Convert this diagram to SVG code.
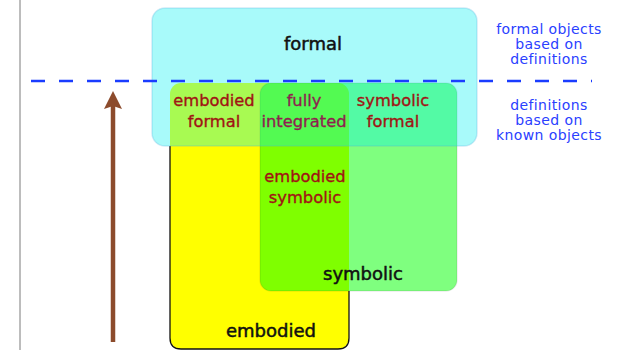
<svg xmlns="http://www.w3.org/2000/svg" width="622" height="350" viewBox="0 0 622 350">
  <style>
    .lbl { font-family: "DejaVu Sans", Verdana, sans-serif; font-size: 18px; fill: #111; stroke: #111; stroke-width: 0.5; text-anchor: middle; }
    .reg { font-family: "DejaVu Sans", Verdana, sans-serif; font-size: 16.3px; fill: #a01414; stroke: #a01414; stroke-width: 0.35; text-anchor: middle; }
    .reg2 { fill: #8f1f4f; stroke: #8f1f4f; }
    .note { font-family: "DejaVu Sans", Verdana, sans-serif; font-size: 14px; letter-spacing: 0.4px; fill: #2a40ff; text-anchor: middle; }
  </style>
  <rect width="622" height="350" fill="#ffffff"/>
  <line x1="20" y1="0" x2="20" y2="350" stroke="#7a7a7a" stroke-width="1"/>

  <g id="node-embodied">
    <rect x="170" y="83" width="179" height="266" rx="11" fill="#ffff00"/>
    <path d="M170,146 V338 Q170,349 181,349 H338 Q349,349 349,338 V291" fill="none" stroke="#111" stroke-width="1.3"/>
  </g>

  <g id="node-symbolic">
    <rect x="260" y="83" width="197" height="208" rx="11" fill="rgba(0,255,0,0.5)" stroke="rgba(0,0,0,0.08)" stroke-width="1.5"/>
  </g>

  <g id="node-formal">
    <rect x="152" y="8" width="325" height="138" rx="13" fill="rgba(0,240,240,0.34)" stroke="rgba(80,170,220,0.25)" stroke-width="1.5"/>
  </g>

  <g id="labels">
    <text class="lbl" x="313" y="50">formal</text>
    <text class="lbl" x="363" y="280">symbolic</text>
    <text class="lbl" x="271" y="337">embodied</text>
  </g>

  <g id="region-embodied-formal">
    <text class="reg" x="214" y="106">embodied</text>
    <text class="reg" x="214" y="127">formal</text>
  </g>
  <g id="region-fully-integrated">
    <text class="reg reg2" x="304" y="106">fully</text>
    <text class="reg reg2" x="304" y="127">integrated</text>
  </g>
  <g id="region-symbolic-formal">
    <text class="reg" x="393" y="106">symbolic</text>
    <text class="reg" x="393" y="127">formal</text>
  </g>
  <g id="region-embodied-symbolic">
    <text class="reg" x="305" y="182">embodied</text>
    <text class="reg" x="305" y="203">symbolic</text>
  </g>

  <g id="notes">
    <text class="note" x="549" y="34">formal objects</text>
    <text class="note" x="549" y="49">based on</text>
    <text class="note" x="549" y="64">definitions</text>
    <text class="note" x="549" y="110">definitions</text>
    <text class="note" x="549" y="125">based on</text>
    <text class="note" x="549" y="140">known objects</text>
  </g>

  <g id="connectors">
    <line x1="31" y1="81" x2="592" y2="81" stroke="#1a3cff" stroke-width="2.6" stroke-dasharray="14 14"/>
    <line x1="113" y1="342" x2="113" y2="104" stroke="#8c4b2c" stroke-width="4.5"/>
    <path d="M113,91 L122,109 L113,106 L104,109 Z" fill="#8c4b2c"/>
  </g>
</svg>
